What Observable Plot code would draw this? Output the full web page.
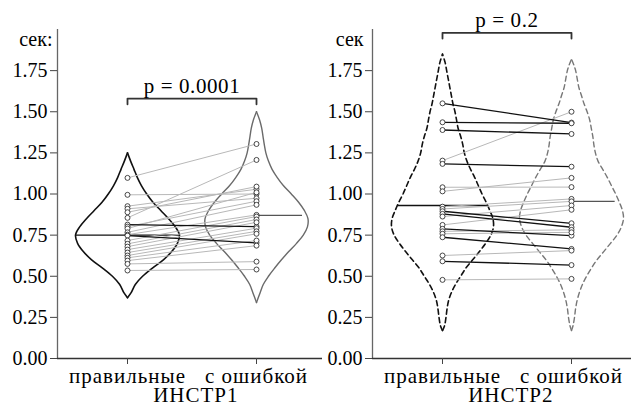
<!DOCTYPE html>
<html>
<head>
<meta charset="utf-8">
<script src="https://cdn.jsdelivr.net/npm/d3@7"></script>
<script src="https://cdn.jsdelivr.net/npm/@observablehq/plot@0.6"></script>
<style>
  body { margin: 0; background: #fff; }
  #chart { position: relative; width: 631px; height: 406px; overflow: hidden; background: #fff; }
  #chart svg { position: absolute; top: 0; background: transparent !important; overflow: visible;
    font-family: 'Liberation Serif', 'Times New Roman', serif !important; }
  #chart svg text { font-family: 'Liberation Serif', 'Times New Roman', serif !important; }
</style>
</head>
<body>
<div id="chart"></div>
<script>
// Categories, panels and labels
const groups = ["правильные", "с ошибкой"];
const panels = ["ИНСТР1", "ИНСТР2"];
const yTicks = [0, 0.25, 0.5, 0.75, 1, 1.25, 1.5, 1.75];
const yUnits = ["сек:", "сек"];
const pLabels = ["p = 0.0001", "p = 0.2"];

// Reaction time per subject (sec), paired by index
const instr1Correct = [1.098, 0.995, 0.926, 0.910, 0.889, 0.855, 0.814, 0.802, 0.790, 0.767, 0.753,
  0.747, 0.717, 0.697, 0.680, 0.662, 0.644, 0.626, 0.612, 0.595, 0.575, 0.535];
const instr1Error = [1.304, 1.000, 1.029, 0.974, 1.045, 1.207, 0.802, 0.956, 1.010, 0.934, 0.873,
  0.703, 0.863, 0.845, 0.828, 0.792, 0.773, 0.758, 0.717, 0.686, 0.589, 0.541];
const instr2Correct = [1.551, 1.436, 1.389, 1.203, 1.183, 1.041, 1.016, 0.923, 0.909, 0.895,
  0.879, 0.863, 0.812, 0.788, 0.773, 0.758, 0.737, 0.626, 0.591, 0.478];
const instr2Error = [1.434, 1.430, 1.365, 1.500, 1.166, 1.042, 1.098, 0.970, 0.955, 0.822,
  0.798, 0.930, 0.904, 0.747, 0.782, 0.767, 0.666, 0.656, 0.568, 0.484];

// Medians per group
const instr1Medians = [0.75, 0.87];
const instr2Medians = [0.93, 0.955];

// Violin outlines: [sec, relative density]
const violin1Correct = [[0.37,0],[0.40,0.07],[0.45,0.15],[0.50,0.29],[0.55,0.48],[0.60,0.69],[0.65,0.85],
  [0.70,0.96],[0.75,1.00],[0.80,0.92],[0.85,0.79],[0.90,0.64],[0.95,0.49],[1.00,0.37],[1.05,0.27],
  [1.10,0.19],[1.15,0.125],[1.20,0.06],[1.25,0]];
const violin1Error = [[0.34,0],[0.40,0.07],[0.45,0.13],[0.50,0.23],[0.55,0.35],[0.60,0.48],[0.65,0.62],
  [0.70,0.77],[0.75,0.90],[0.80,0.98],[0.85,0.99],[0.90,0.92],[0.95,0.81],[1.00,0.67],[1.05,0.52],
  [1.10,0.40],[1.15,0.30],[1.20,0.23],[1.25,0.18],[1.30,0.15],[1.35,0.125],[1.40,0.10],[1.45,0.06],[1.50,0]];
const violin2Correct = [[0.17,0],[0.20,0.04],[0.25,0.067],[0.30,0.087],[0.35,0.115],[0.40,0.17],[0.45,0.25],
  [0.50,0.35],[0.55,0.45],[0.60,0.58],[0.65,0.71],[0.70,0.83],[0.75,0.93],[0.80,0.98],[0.85,0.97],
  [0.90,0.91],[0.95,0.84],[1.00,0.76],[1.05,0.69],[1.10,0.62],[1.15,0.54],[1.20,0.47],[1.25,0.42],
  [1.30,0.39],[1.35,0.35],[1.40,0.30],[1.45,0.27],[1.50,0.24],[1.55,0.20],[1.60,0.17],[1.65,0.14],
  [1.70,0.11],[1.75,0.08],[1.80,0.05],[1.85,0]];
const violin2Error = [[0.17,0],[0.20,0.03],[0.25,0.058],[0.30,0.077],[0.35,0.106],[0.40,0.15],[0.45,0.21],
  [0.50,0.29],[0.55,0.385],[0.60,0.49],[0.65,0.62],[0.70,0.75],[0.75,0.875],[0.80,0.96],[0.85,1.00],
  [0.90,0.98],[0.95,0.92],[1.00,0.85],[1.05,0.77],[1.10,0.69],[1.15,0.60],[1.20,0.51],[1.25,0.46],
  [1.30,0.43],[1.35,0.41],[1.40,0.38],[1.45,0.35],[1.50,0.30],[1.55,0.24],[1.60,0.19],[1.65,0.14],
  [1.70,0.11],[1.75,0.08],[1.78,0.05],[1.82,0]];

const HALF = 0.403;          // violin half-width at density 1, in category units
const X_LEFT = -70 / 129;    // left end of the x axis, in category units

function outline(profile, center) {
  const rows = [];
  for (const side of [-1, 1]) for (const [v, d] of profile) rows.push({x: center + side * d * HALF, y: v, side});
  return rows;
}
function halfAt(profile, v) {
  for (let i = 1; i < profile.length; i++) {
    const [v0, d0] = profile[i - 1], [v1, d1] = profile[i];
    if (v >= v0 && v <= v1) return (d0 + (d1 - d0) * (v - v0) / (v1 - v0)) * HALF;
  }
  return 0;
}

function panel(cfg) {
  const {width, xRight, a, b, violins, medians, title, unit, unitDx, pLabel, bracketY} = cfg;
  const pairs = a.map((v, i) => ({a: v, b: b[i], down: b[i] < v}));
  pairs.sort((p, q) => (q.down ? 0 : 1) - (p.down ? 0 : 1));
  const dots = [...a.map(v => ({x: 0, y: v})), ...b.map(v => ({x: 1, y: v}))];
  const [m0, m1] = medians;
  const [pv0, pv1] = violins.map(v => v.profile);
  const hm0 = halfAt(pv0, m0), hm1 = halfAt(pv1, m1);

  const marks = [
    // axis lines
    Plot.ruleX([X_LEFT], {y1: 0, y2: 2, stroke: "#666", strokeWidth: 1.3}),
    Plot.ruleY([0], {x1: X_LEFT, x2: xRight, stroke: "#333", strokeWidth: 1.3}),
    Plot.axisY(yTicks, {tickFormat: d => d.toFixed(2), tickSize: 7, tickPadding: 3, stroke: "#444", fill: "#000", fontSize: 20, label: null}),
    Plot.axisX([0, 1], {tickFormat: i => groups[i], tickSize: 6, tickPadding: 4, stroke: "#444", fill: "#000", fontSize: 21, label: null}),
    // violins
    ...violins.map(v => Plot.line(outline(v.profile, v.center), {
      x: "x", y: "y", z: "side", curve: "catmull-rom",
      stroke: v.stroke, strokeWidth: v.width, strokeDasharray: v.dash
    })),
    // medians
    Plot.ruleY([m0], {x1: -hm0, x2: hm0, stroke: violins[0].stroke, strokeWidth: 1.4}),
    Plot.ruleY([m1], {x1: 1, x2: 1 + hm1 * 0.92, stroke: "#555", strokeWidth: 1.3}),
    // paired observations
    Plot.link(pairs, {
      x1: () => 0, y1: "a", x2: () => 1, y2: "b",
      stroke: d => d.down ? "#111" : "#b8b8b8",
      strokeWidth: d => d.down ? 1.3 : 1
    }),
    Plot.dot(dots, {x: "x", y: "y", r: 2.5, fill: "#fff", stroke: "#333", strokeWidth: 0.9}),
    // significance bracket
    Plot.line([{x: 0, y: bracketY - 0.035}, {x: 0, y: bracketY}, {x: 1, y: bracketY}, {x: 1, y: bracketY - 0.035}],
      {x: "x", y: "y", stroke: "#333", strokeWidth: 1.8}),
    Plot.text([pLabel], {x: 0.5, y: bracketY + 0.035, text: d => d, lineAnchor: "bottom", fontSize: 21, fill: "#000"}),
    // unit and panel title
    Plot.text([unit], {frameAnchor: "top-left", text: d => d, textAnchor: "end", lineAnchor: "top", dx: unitDx, dy: 2, fontSize: 20, fill: "#000"}),
    Plot.text([title], {x: 0.53, frameAnchor: "bottom", text: d => d, lineAnchor: "top", dy: 29, fontSize: 21, fill: "#000"})
  ];

  const svg = Plot.plot({
    width, height: 406,
    marginLeft: 57, marginRight: width - 57 - (xRight - X_LEFT) * 129, marginTop: 29, marginBottom: 48,
    x: {domain: [X_LEFT, xRight], axis: null},
    y: {domain: [0, 2], axis: null},
    style: {color: "#000"},
    marks
  });
  // wider tracking for the word labels and the p-value
  for (const t of svg.querySelectorAll("text")) {
    const s = t.textContent;
    if (/[А-яЁё]/.test(s) && s !== unit) t.style.letterSpacing = "1px";
    else if (s === pLabel) t.style.letterSpacing = "0.6px";
  }
  return svg;
}

const chart = document.getElementById("chart");

const left = panel({
  width: 323, xRight: 195 / 129,
  a: instr1Correct, b: instr1Error, medians: instr1Medians,
  violins: [
    {profile: violin1Correct, center: 0, stroke: "#111", width: 1.6, dash: null},
    {profile: violin1Error, center: 1, stroke: "#6a6a6a", width: 1.4, dash: null}
  ],
  title: panels[0], unit: yUnits[0], unitDx: -5, pLabel: pLabels[0], bracketY: 1.58
});
left.style.left = "0px";
chart.appendChild(left);

const right = panel({
  width: 316, xRight: 189 / 129,
  a: instr2Correct, b: instr2Error, medians: instr2Medians,
  violins: [
    {profile: violin2Correct, center: 0, stroke: "#111", width: 1.6, dash: "5,3.5"},
    {profile: violin2Error, center: 1, stroke: "#777", width: 1.4, dash: "5,3.5"}
  ],
  title: panels[1], unit: yUnits[1], unitDx: -9, pLabel: pLabels[1], bracketY: 1.98
});
right.style.left = "315px";
chart.appendChild(right);
</script>
</body>
</html>
